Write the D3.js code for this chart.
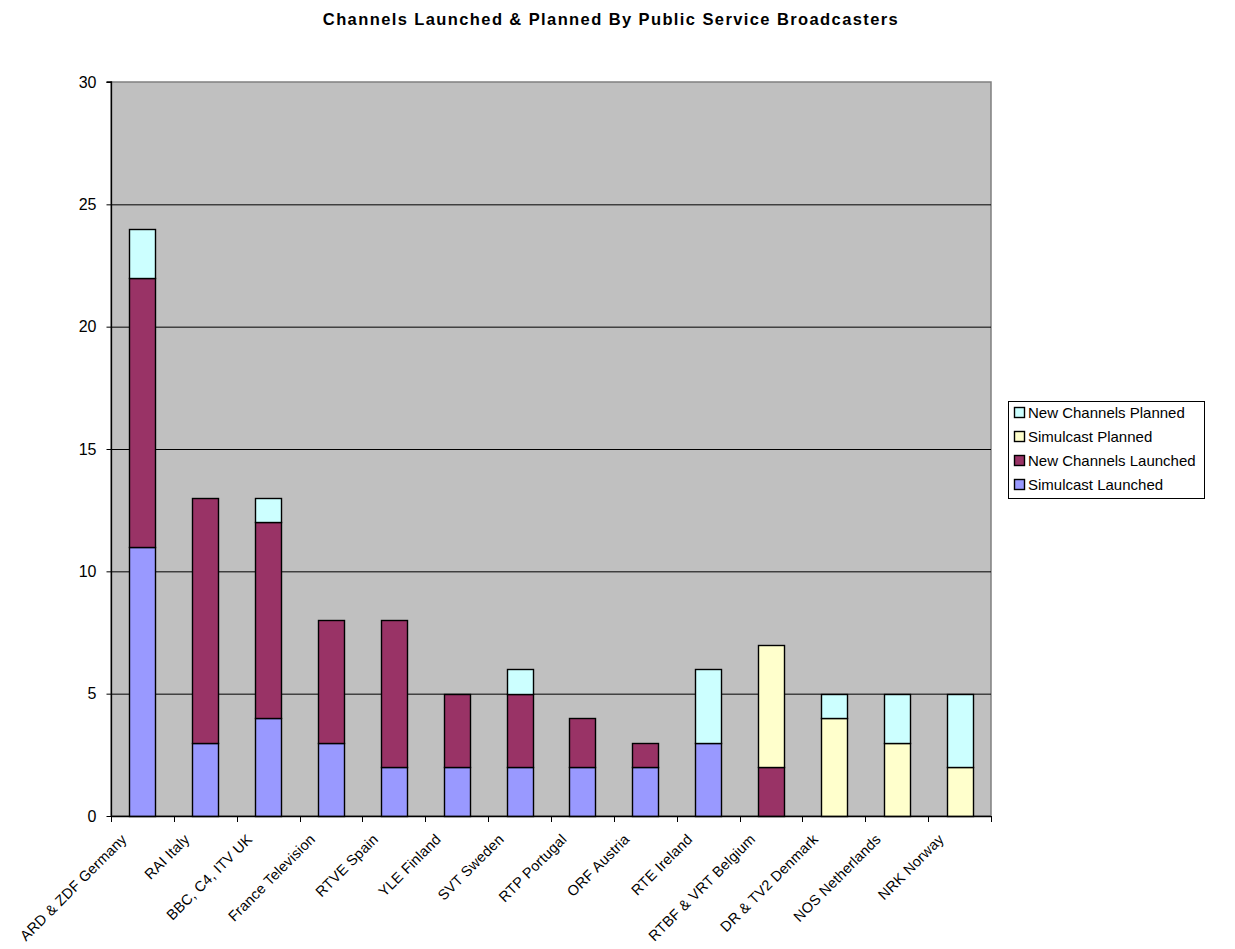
<!DOCTYPE html>
<html><head><meta charset="utf-8">
<script src="https://cdn.jsdelivr.net/npm/d3@7"></script>
<style>body{margin:0;background:#fff}svg{font-family:"Liberation Sans",Arial,sans-serif}</style>
</head><body><svg id="c" width="1235" height="949"></svg>
<script>
const categories = ["ARD & ZDF Germany","RAI Italy","BBC, C4, ITV UK","France Television","RTVE Spain","YLE Finland","SVT Sweden","RTP Portugal","ORF Austria","RTE Ireland","RTBF & VRT Belgium","DR & TV2 Denmark","NOS Netherlands","NRK Norway"];
const simulcastLaunched   = [11,3,4,3,2,2,2,2,2,3,0,0,0,0];
const newChannelsLaunched = [11,10,8,5,6,3,3,2,1,0,2,0,0,0];
const simulcastPlanned    = [0,0,0,0,0,0,0,0,0,0,5,4,3,2];
const newChannelsPlanned  = [2,0,1,0,0,0,1,0,0,3,0,1,2,3];
const seriesNames = ["Simulcast Launched","New Channels Launched","Simulcast Planned","New Channels Planned"];
const seriesColors = ["#9999FF","#993366","#FFFFCC","#CCFFFF"];
const yTicks = [0,5,10,15,20,25,30];

const svg = d3.select("#c");
const L=111,R=991,T=82,B=816;
const x = d3.scaleBand().domain(categories).range([L,R]).paddingInner(0.585).paddingOuter(0.2925);
const y = d3.scaleLinear().domain([0,30]).range([B,T]);

svg.append("text").attr("x",611).attr("y",25).attr("text-anchor","middle")
  .attr("font-weight","bold").attr("font-size",16.5).attr("letter-spacing",1.4)
  .text("Channels Launched & Planned By Public Service Broadcasters");

svg.append("rect").attr("x",L).attr("y",T).attr("width",R-L).attr("height",B-T).attr("fill","#C0C0C0").attr("stroke","#808080").attr("stroke-width",1.5);
svg.selectAll(".g").data(yTicks.slice(1,-1)).join("line").attr("x1",L).attr("x2",R)
  .attr("y1",d=>y(d)+0.5).attr("y2",d=>y(d)+0.5).attr("stroke","#000").attr("stroke-width",1);

const table = categories.map((c,i)=>({cat:c,s0:simulcastLaunched[i],s1:newChannelsLaunched[i],s2:simulcastPlanned[i],s3:newChannelsPlanned[i]}));
const stack = d3.stack().keys(["s0","s1","s2","s3"])(table);
stack.forEach((layer,k)=>{
  svg.append("g").selectAll("rect").data(layer.filter(d=>d[1]>d[0])).join("rect")
    .attr("x",d=>Math.round(x(d.data.cat))+0.5).attr("width",Math.round(x.bandwidth()))
    .attr("y",d=>Math.round(y(d[1]))+0.5).attr("height",d=>Math.round(y(d[0]))-Math.round(y(d[1])))
    .attr("fill",seriesColors[k]).attr("stroke","#000").attr("stroke-width",1.4);
});

const yAxis = d3.axisLeft(y).tickValues(yTicks).tickSize(5).tickPadding(10);
const ga = svg.append("g").attr("transform",`translate(${L+0.5},0)`).call(yAxis);
ga.select(".domain").attr("stroke","#000").attr("stroke-width",1.3).attr("d",`M-5,${T}H0V${B}`);
ga.selectAll(".tick line").attr("stroke","#000");
ga.selectAll("text").attr("font-size",16).attr("fill","#000").attr("font-family","Liberation Sans, Arial, sans-serif");

const step = (R-L)/categories.length;
const xb = svg.append("g");
xb.append("line").attr("x1",L).attr("x2",R).attr("y1",B+0.5).attr("y2",B+0.5).attr("stroke","#000").attr("stroke-width",1.3);
xb.selectAll(".t").data(d3.range(categories.length+1)).join("line")
  .attr("x1",i=>Math.round(L+i*step)+0.5).attr("x2",i=>Math.round(L+i*step)+0.5)
  .attr("y1",B).attr("y2",B+6).attr("stroke","#000");
xb.selectAll("text").data(categories).join("text")
  .attr("transform",d=>`translate(${x(d)+x.bandwidth()/2-22},${B+17}) rotate(-45)`)
  .attr("text-anchor","end").attr("dy","0.7em").attr("font-size",14.5).attr("letter-spacing",0.2).text(d=>d);

const lg = svg.append("g");
lg.append("rect").attr("x",1008.5).attr("y",401.5).attr("width",196).attr("height",97).attr("fill","#fff").attr("stroke","#000");
const order=[3,2,1,0];
order.forEach((k,j)=>{
  const yy=413+j*24;
  lg.append("rect").attr("x",1014.5).attr("y",yy-5.5).attr("width",10).attr("height",10).attr("fill",seriesColors[k]).attr("stroke","#000").attr("stroke-width",1.4);
  lg.append("text").attr("x",1028).attr("y",yy).attr("dy","0.35em").attr("font-size",15).text(seriesNames[k]);
});
</script></body></html>
